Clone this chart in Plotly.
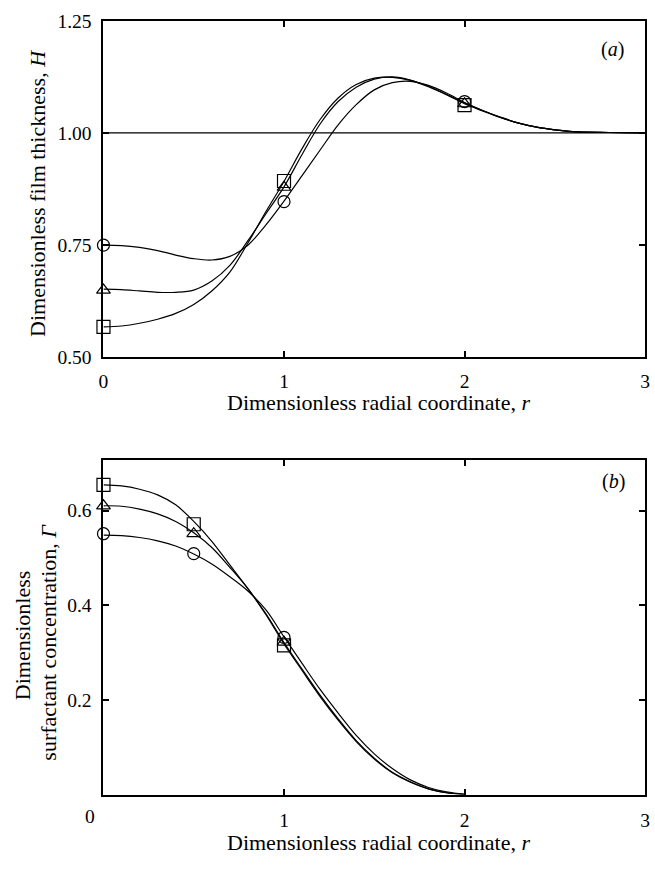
import plotly.graph_objects as go

# ---------------- data: panel (a) film thickness H ----------------
r_a = [0.0, 0.1, 0.2, 0.3, 0.4, 0.5, 0.6, 0.7, 0.8, 0.9, 1.0, 1.1, 1.2, 1.3, 1.4,
       1.5, 1.6, 1.7, 1.8, 1.9, 2.0, 2.1, 2.2, 2.3, 2.4, 2.5, 2.6, 2.8, 3.0]
H_circle = [0.750, 0.749, 0.745, 0.738, 0.728, 0.720, 0.717, 0.725, 0.750, 0.795,
            0.848, 0.905, 0.962, 1.018, 1.063, 1.096, 1.112, 1.115, 1.106, 1.089,
            1.068, 1.050, 1.035, 1.022, 1.013, 1.007, 1.003, 1.001, 1.000]
H_triangle = [0.652, 0.651, 0.648, 0.645, 0.645, 0.650, 0.670, 0.705, 0.760, 0.820,
              0.880, 0.952, 1.020, 1.070, 1.102, 1.120, 1.125, 1.118, 1.104, 1.086,
              1.067, 1.050, 1.035, 1.022, 1.013, 1.007, 1.003, 1.001, 1.000]
H_square = [0.568, 0.570, 0.576, 0.585, 0.598, 0.618, 0.648, 0.690, 0.755, 0.825,
            0.892, 0.965, 1.030, 1.078, 1.108, 1.122, 1.124, 1.117, 1.103, 1.085,
            1.065, 1.049, 1.034, 1.022, 1.013, 1.007, 1.003, 1.001, 1.000]
r_mark_a = [0.0, 1.0, 2.0]
Hm_circle = [0.750, 0.847, 1.070]
Hm_triangle = [0.650, 0.879, 1.065]
Hm_square = [0.568, 0.893, 1.062]
H_ref = 1.0

# ---------------- data: panel (b) surfactant concentration ----------------
r_b = [0.0, 0.1, 0.2, 0.3, 0.4, 0.5, 0.6, 0.7, 0.8, 0.9, 1.0, 1.1, 1.2, 1.3, 1.4,
       1.5, 1.6, 1.7, 1.8, 1.9, 2.0]
G_square = [0.654, 0.652, 0.645, 0.633, 0.612, 0.577, 0.535, 0.485, 0.435, 0.380,
            0.318, 0.262, 0.207, 0.157, 0.112, 0.075, 0.046, 0.026, 0.012, 0.004, 0.000]
G_triangle = [0.610, 0.609, 0.603, 0.593, 0.577, 0.553, 0.522, 0.480, 0.435, 0.382,
              0.321, 0.265, 0.210, 0.160, 0.114, 0.077, 0.047, 0.027, 0.012, 0.004, 0.000]
G_circle = [0.548, 0.547, 0.543, 0.536, 0.525, 0.508, 0.487, 0.460, 0.430, 0.390,
            0.333, 0.277, 0.222, 0.172, 0.125, 0.086, 0.055, 0.031, 0.015, 0.006, 0.001]
r_mark_b = [0.0, 0.5, 1.0]
Gm_square = [0.654, 0.571, 0.315]
Gm_triangle = [0.610, 0.551, 0.322]
Gm_circle = [0.551, 0.509, 0.332]

xticks_a = [0, 1, 2, 3]
yticks_a = [0.50, 0.75, 1.00, 1.25]
xticks_b = [1, 2, 3]
yticks_b = [0.2, 0.4, 0.6]

FONT = "Liberation Serif, Times New Roman, DejaVu Serif, serif"
W, Hh = 655, 869

fig = go.Figure()

line = dict(color="black", width=1.2)
for ys in (H_circle, H_triangle, H_square):
    fig.add_trace(go.Scatter(x=r_a, y=ys, mode="lines", line=line, line_shape="spline",
                             xaxis="x", yaxis="y", showlegend=False, hoverinfo="skip"))
fig.add_trace(go.Scatter(x=[0, 3], y=[H_ref, H_ref], mode="lines", line=dict(color="black", width=1.2),
                         xaxis="x", yaxis="y", showlegend=False))
for ys, sym, sz in ((Hm_circle, "circle-open", 12), (Hm_triangle, "triangle-up-open", 12),
                    (Hm_square, "square-open", 13)):
    fig.add_trace(go.Scatter(x=r_mark_a, y=ys, mode="markers", cliponaxis=False,
                             marker=dict(symbol=sym, size=sz, color="black", line=dict(width=1.2, color="black")),
                             xaxis="x", yaxis="y", showlegend=False))

for ys in (G_circle, G_triangle, G_square):
    fig.add_trace(go.Scatter(x=r_b, y=ys, mode="lines", line=line, line_shape="spline",
                             xaxis="x2", yaxis="y2", showlegend=False, hoverinfo="skip"))
for ys, sym, sz in ((Gm_circle, "circle-open", 12), (Gm_triangle, "triangle-up-open", 12),
                    (Gm_square, "square-open", 13)):
    fig.add_trace(go.Scatter(x=r_mark_b, y=ys, mode="markers", cliponaxis=False,
                             marker=dict(symbol=sym, size=sz, color="black", line=dict(width=1.2, color="black")),
                             xaxis="x2", yaxis="y2", showlegend=False))

def px_x(p):
    return p / W

def px_y(p):
    return 1 - p / Hh

axis_common = dict(showline=True, linewidth=2, linecolor="black", mirror="ticks",
                   ticks="inside", ticklen=6, tickwidth=1.5, tickcolor="black",
                   showgrid=False, zeroline=False,
                   tickfont=dict(family=FONT, size=19.5, color="black"))

fig.update_layout(
    width=W, height=Hh,
    margin=dict(l=0, r=0, t=0, b=0),
    paper_bgcolor="white", plot_bgcolor="white",
    showlegend=False,
    xaxis=dict(domain=[px_x(100), px_x(650)], range=[0, 3], anchor="y",
               tickvals=xticks_a, ticktext=[str(v) for v in xticks_a],
               ticklabelstandoff=5, **axis_common),
    yaxis=dict(domain=[px_y(356), px_y(11)], range=[0.5, 1.25], anchor="x",
               tickvals=yticks_a, ticktext=[f"{v:.2f}" for v in yticks_a],
               ticklabelstandoff=6, **axis_common),
    xaxis2=dict(domain=[px_x(100), px_x(650)], range=[0, 3], anchor="y2",
                tickvals=xticks_b, ticktext=[str(v) for v in xticks_b],
                ticklabelstandoff=7, **axis_common),
    yaxis2=dict(domain=[px_y(804), px_y(461)], range=[0, 0.707], anchor="x2",
                tickvals=yticks_b, ticktext=[f"{v:.1f}" for v in yticks_b],
                ticklabelstandoff=6, **axis_common),
)

tfont = dict(family=FONT, size=22, color="black")
ann = [
    dict(text="Dimensionless radial coordinate, <i>r</i>", x=px_x(379), y=px_y(402)),
    dict(text="Dimensionless radial coordinate, <i>r</i>", x=px_x(379), y=px_y(853)),
    dict(text="Dimensionless film thickness, <i>H</i>", x=px_x(33), y=px_y(188), textangle=-90),
    dict(text="Dimensionless", x=px_x(18), y=px_y(641), textangle=-90),
    dict(text="surfactant concentration, <i>Γ</i>", x=px_x(44), y=px_y(648), textangle=-90),
    dict(text="(<i>a</i>)", x=px_x(617), y=px_y(40), font=dict(family=FONT, size=20, color="black")),
    dict(text="(<i>b</i>)", x=px_x(618), y=px_y(483), font=dict(family=FONT, size=20, color="black")),
    dict(text="0", x=px_x(86), y=px_y(826), font=dict(family=FONT, size=19.5, color="black")),
]
for a in ann:
    a.setdefault("font", tfont)
    fig.add_annotation(xref="paper", yref="paper", showarrow=False,
                       xanchor="center", yanchor="middle", **a)

fig.write_html("out.html")
